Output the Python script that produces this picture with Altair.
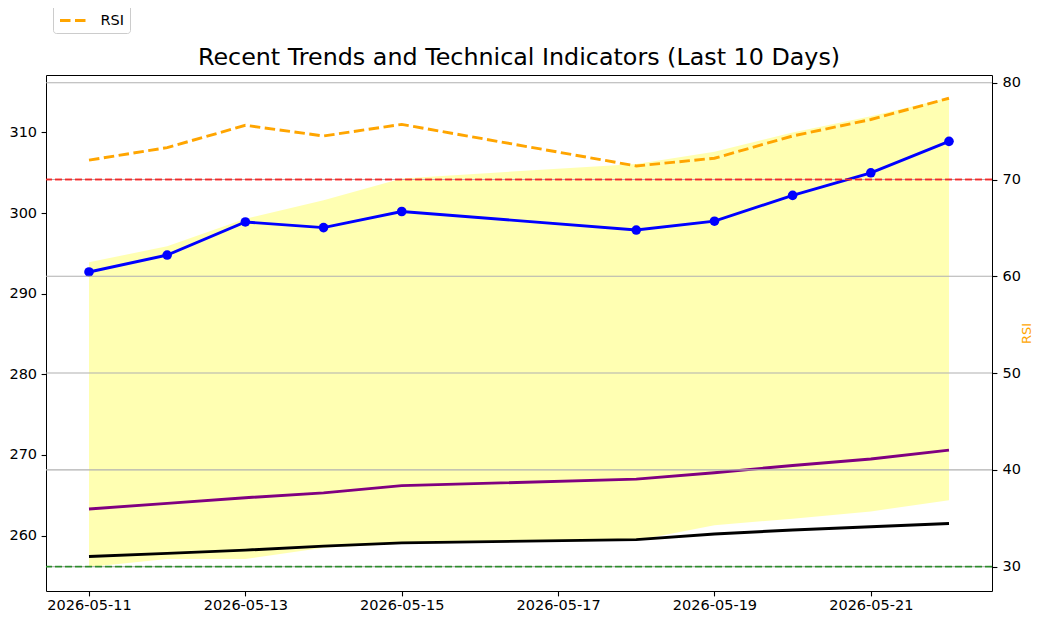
import altair as alt
import pandas as pd

dates = ["2026-05-11", "2026-05-12", "2026-05-13", "2026-05-14", "2026-05-15",
         "2026-05-18", "2026-05-19", "2026-05-20", "2026-05-21", "2026-05-22"]
close = [292.7, 294.8, 298.9, 298.2, 300.2, 297.9, 299.0, 302.2, 305.0, 308.9]
sma20 = [263.3, 264.0, 264.7, 265.3, 266.2, 267.0, 267.8, 268.7, 269.5, 270.6]
sma50 = [257.4, 257.8, 258.2, 258.7, 259.1, 259.5, 260.2, 260.7, 261.1, 261.5]
bb_upper = [293.9, 295.9, 299.3, 301.6, 304.3, 306.1, 307.6, 310.0, 312.0, 314.3]
bb_lower = [256.1, 257.1, 257.1, 258.5, 259.0, 259.4, 261.3, 262.1, 263.0, 264.4]
rsi = [72.0, 73.3, 75.6, 74.5, 75.7, 71.4, 72.2, 74.5, 76.2, 78.4]
rsi_grid = [30, 40, 50, 60, 70, 80]
overbought = [70]
oversold = [30]
price_ticks = [260, 270, 280, 290, 300, 310]
rsi_ticks = [30, 40, 50, 60, 70, 80]

df = pd.DataFrame({
    "date": dates, "close": close, "sma20": sma20, "sma50": sma50,
    "bb_upper": bb_upper, "bb_lower": bb_lower, "rsi": rsi,
})
df["series"] = "RSI"

FONT = "DejaVu Sans"
FS = 14.5
LW = 2.9

x_scale = alt.Scale(type="utc",
                    domain=[alt.DateTime(year=2026, month=5, date=10, hours=10, minutes=48, utc=True),
                            alt.DateTime(year=2026, month=5, date=22, hours=13, minutes=12, utc=True)])
x_axis = alt.Axis(title=None, format="%Y-%m-%d",
                  values=[alt.DateTime(year=2026, month=5, date=d, utc=True) for d in [11, 13, 15, 17, 19, 21]],
                  labelFont=FONT, labelFontSize=FS, labelColor="black",
                  tickColor="black", tickWidth=1.1, tickSize=4.9, labelPadding=3,
                  domain=False, grid=False, labelFlush=False, labelOverlap=False)
X = alt.X("date:T", scale=x_scale, axis=x_axis)

price_scale = alt.Scale(domain=[253.13, 317.13], zero=False, nice=False)
price_axis = alt.Axis(title=None, values=price_ticks, labelFont=FONT, labelFontSize=FS,
                      labelColor="black", tickColor="black", tickWidth=1.1, tickSize=4.9,
                      labelPadding=4.5, domain=False, grid=False)
rsi_scale = alt.Scale(domain=[27.48, 80.8], zero=False, nice=False)
rsi_axis = alt.Axis(title="RSI", orient="right", values=rsi_ticks, labelFont=FONT, labelFontSize=FS,
                    labelColor="black", tickColor="black", tickWidth=1.1, tickSize=4.9,
                    labelPadding=5, domain=False, grid=False,
                    titleColor="orange", titleFont=FONT, titleFontSize=13, titleFontWeight="normal",
                    titleAngle=270, titleX=34, titleY=258, titleAlign="center", titleBaseline="middle")

base = alt.Chart(df)

band = base.mark_area(color="yellow", opacity=0.3).encode(
    x=X, y=alt.Y("bb_upper:Q", scale=price_scale, axis=price_axis), y2="bb_lower:Q")
line_sma50 = base.mark_line(color="black", strokeWidth=LW).encode(
    x=X, y=alt.Y("sma50:Q", scale=price_scale, axis=price_axis))
line_sma20 = base.mark_line(color="purple", strokeWidth=LW).encode(
    x=X, y=alt.Y("sma20:Q", scale=price_scale, axis=price_axis))
line_close = base.mark_line(color="blue", strokeWidth=LW).encode(
    x=X, y=alt.Y("close:Q", scale=price_scale, axis=price_axis))
pts_close = base.mark_circle(color="blue", size=92, opacity=1).encode(
    x=X, y=alt.Y("close:Q", scale=price_scale, axis=price_axis))

price_layer = alt.layer(band, line_sma50, line_sma20, line_close, pts_close)

grid = alt.Chart(pd.DataFrame({"level": rsi_grid})).mark_rule(color="#b0b0b0", strokeWidth=1.1).encode(
    y=alt.Y("level:Q", scale=rsi_scale, axis=rsi_axis))
red = alt.Chart(pd.DataFrame({"level": overbought})).mark_rule(
    color="red", opacity=0.75, strokeWidth=1.8, strokeDash=[7, 3]).encode(
    y=alt.Y("level:Q", scale=rsi_scale, axis=rsi_axis))
green = alt.Chart(pd.DataFrame({"level": oversold})).mark_rule(
    color="green", opacity=0.75, strokeWidth=1.8, strokeDash=[7, 3]).encode(
    y=alt.Y("level:Q", scale=rsi_scale, axis=rsi_axis))
rsi_line = base.mark_line(strokeWidth=LW, strokeDash=[10.5, 4.5]).encode(
    x=X, y=alt.Y("rsi:Q", scale=rsi_scale, axis=rsi_axis),
    color=alt.Color("series:N", scale=alt.Scale(domain=["RSI"], range=["orange"]),
                    legend=alt.Legend(title=None, orient="none", legendX=7, legendY=-75,
                                      symbolType="stroke", symbolStrokeWidth=LW,
                                      symbolDash=[10.5, 4.5], symbolSize=729,
                                      strokeColor="#cccccc", fillColor="white",
                                      cornerRadius=3, padding=5.5,
                                      labelFont=FONT, labelFontSize=FS, labelColor="black",
                                      labelOffset=12)))

rsi_layer = alt.layer(grid, red, green, rsi_line)

chart = alt.layer(price_layer, rsi_layer).resolve_scale(y="independent").properties(
    width=946, height=516,
    autosize=alt.AutoSizeParams(type="none"),
    padding={"left": 38, "top": 67, "right": 40, "bottom": 27},
    title=alt.TitleParams("Recent Trends and Technical Indicators (Last 10 Days)",
                          font=FONT, fontSize=23.8, fontWeight="normal", color="black",
                          anchor="middle", offset=0, baseline="alphabetic", dy=89),
).configure_view(stroke="black", strokeWidth=1)

chart.save("out.html", embed_options={"renderer": "svg", "actions": False})
